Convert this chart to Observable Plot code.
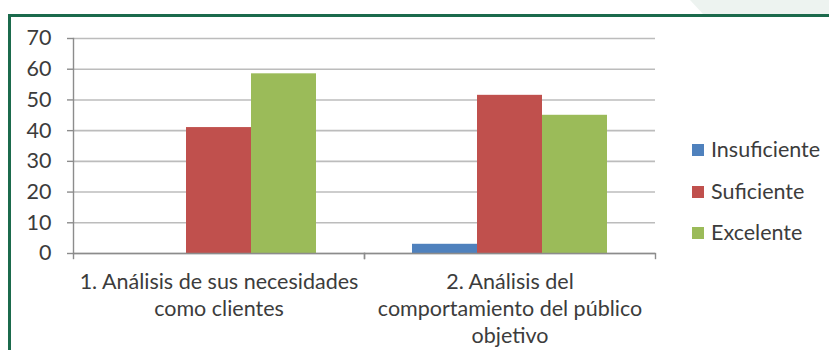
<!DOCTYPE html>
<html>
<head>
<meta charset="utf-8">
<script src="https://cdn.jsdelivr.net/npm/d3@7"></script>
<script src="https://cdn.jsdelivr.net/npm/@observablehq/plot@0.6"></script>
<style>
  html, body { margin: 0; padding: 0; background: #fff; }
  #wrap { position: relative; width: 829px; height: 350px; overflow: hidden; font-family: Lato, "Open Sans", sans-serif; }
  #deco { position: absolute; left: 690px; top: 0; width: 139px; height: 15px; background: #edf3f0; clip-path: polygon(0 0, 100% 0, 100% 100%, 10% 100%); }
  #border { position: absolute; left: 8px; top: 14px; width: 830px; height: 350px; border-left: 3px solid #1b6a4c; border-top: 3px solid #1b6a4c; }
  #chart { position: absolute; left: 0; top: 0; }
  #legend { position: absolute; left: 692px; top: 0; }
  .item { position: absolute; left: 0; white-space: nowrap; font-size: 21.5px; color: #3c3c3c; line-height: 22px; }
  .sw { display: inline-block; width: 12px; height: 12px; margin-right: 7px; vertical-align: 1px; }
</style>
</head>
<body>
<div id="wrap">
  <div id="deco"></div>
  <div id="border"></div>
  <div id="chart"></div>
  <div id="legend"></div>
</div>
<script>
const categories = [
  "1. Análisis de sus necesidades\ncomo clientes",
  "2. Análisis del\ncomportamiento del público\nobjetivo"
];
const series = ["Insuficiente", "Suficiente", "Excelente"];
const insuficiente = [0, 3];
const suficiente = [41, 51.5];
const excelente = [58.5, 45];
const yTicks = [0, 10, 20, 30, 40, 50, 60, 70];
const colors = ["#4f81bd", "#c0504d", "#9bbb59"];

const valuesBySeries = [insuficiente, suficiente, excelente];
const data = [];
categories.forEach((c, i) => series.forEach((s, j) => data.push({cat: c, series: s, value: valuesBySeries[j][i]})));

const axisColor = "#8c8c8c";
const textColor = "#3c3c3c";
const fs = 21.5;
const plot = Plot.plot({
  width: 829,
  height: 350,
  marginLeft: 72,
  marginRight: 174,
  marginTop: 38,
  marginBottom: 97,
  style: {fontFamily: "Lato, 'Open Sans', sans-serif", fontSize: fs + "px", color: textColor, background: "transparent"},
  fx: {domain: categories, padding: 0, axis: null, label: null},
  x: {domain: series, paddingInner: 0, paddingOuter: 0.738, axis: null},
  y: {domain: [0, 70], axis: null},
  color: {domain: series, range: colors},
  marks: [
    Plot.gridY(yTicks, {stroke: "#bcbcbc", strokeOpacity: 1, strokeWidth: 1.6}),
    Plot.barY(data, {fx: "cat", x: "series", y: "value", fill: "series"}),
    Plot.ruleY([0], {stroke: axisColor, strokeWidth: 1.4}),
    Plot.frame({anchor: "left", stroke: axisColor, strokeWidth: 1.4, facetAnchor: "left"}),
    Plot.frame({anchor: "left", stroke: axisColor, strokeWidth: 1.4, insetTop: 215, insetBottom: -5}),
    Plot.frame({anchor: "right", stroke: axisColor, strokeWidth: 1.4, insetTop: 215, insetBottom: -5}),
    Plot.axisY(yTicks, {tickSize: 6, tickPadding: 16, stroke: axisColor, strokeWidth: 1.4, fill: textColor, fontSize: fs, label: null}),
    Plot.text(categories, {fx: d => d, text: d => d, frameAnchor: "bottom", lineAnchor: "top", dy: 16, lineHeight: 1.26, fill: textColor, fontSize: fs})
  ]
});
document.getElementById("chart").appendChild(plot);

const legendTops = [138, 180, 221];
const legend = document.getElementById("legend");
series.forEach((s, i) => {
  const d = document.createElement("div");
  d.className = "item";
  d.style.top = legendTops[i] + "px";
  d.innerHTML = `<span class="sw" style="background:${plot.scale("color").apply(s)}"></span>${s}`;
  legend.appendChild(d);
});
</script>
</body>
</html>
